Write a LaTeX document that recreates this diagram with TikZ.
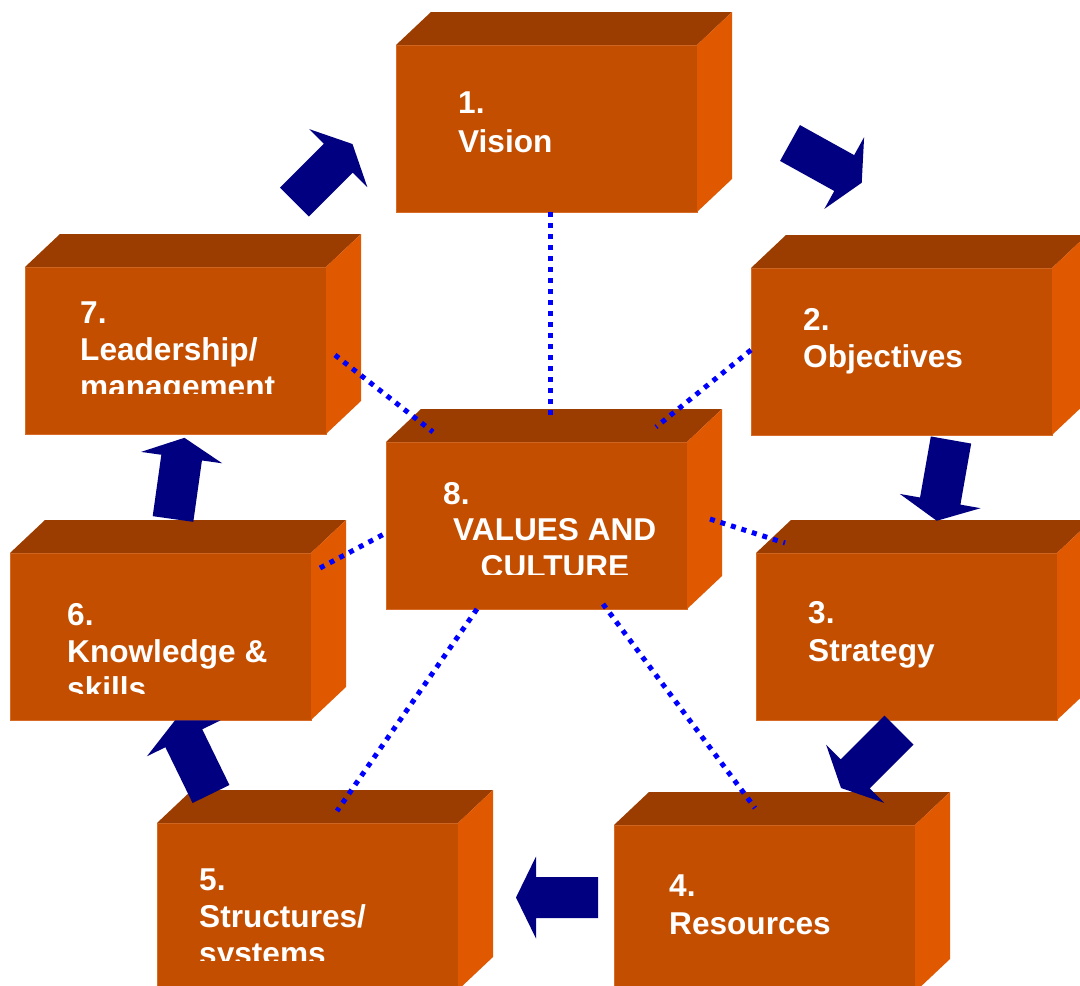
\documentclass[tikz,border=0pt]{standalone}
\usepackage{fontspec}
\setmainfont{Liberation Sans}
\definecolor{frontc}{RGB}{196,78,0}
\definecolor{topc}{RGB}{155,61,0}
\definecolor{sidec}{RGB}{224,89,0}
\definecolor{edgec}{RGB}{214,108,40}
\definecolor{navyc}{RGB}{0,0,128}
\definecolor{dotc}{RGB}{0,0,255}
\tikzset{
  frontface/.style={fill=frontc, draw=edgec, line width=0.8pt, minimum width=301pt, minimum height=167pt, inner sep=0pt, outer sep=0pt, anchor=north west},
  topface/.style={fill=topc},
  sideface/.style={fill=sidec},
  lbl/.style={text=white, font=\fontsize{31.6}{37}\selectfont\bfseries, inner sep=0pt, anchor=base west},
  link/.style={draw=dotc, line width=5pt, dash pattern=on 5pt off 6pt},
  blockarrow/.pic={\fill[navyc] (0,-20.5) -- (62,-20.5) -- (62,-41) -- (82,0) -- (62,41) -- (62,20.5) -- (0,20.5) -- cycle;}
}
\newcommand\drawcuboid[3]{%
  \node[frontface] (#1) at (#2,#3) {};
  \fill[topface] (#1.north west) -- ++(35,-33) -- ++(301,0) -- (#1.north east) -- cycle;
  \fill[sideface] (#1.north east) -- ++(35,-33) -- ++(0,167) -- (#1.south east) -- cycle;
}
\begin{document}
\begin{tikzpicture}[x=1pt,y=-1pt]
\useasboundingbox (0,0) rectangle (1080,986);
\clip (0,0) rectangle (1080,986);
\fill[white] (0,0) rectangle (1080,986);

% boxes
\drawcuboid{b1}{396}{45}
\drawcuboid{b2}{751}{268}
\drawcuboid{b3}{756}{553}
\drawcuboid{b4}{614}{825}
\drawcuboid{b5}{157}{823}
\drawcuboid{b6}{10}{553}
\drawcuboid{b7}{25}{267}
\drawcuboid{b8}{386}{442}

% labels
\node[lbl] (t1a) at (458,113) {1.};
\node[lbl] (t1b) at (458,152) {Vision};
\node[lbl] (t2a) at (803,330) {2.};
\node[lbl] (t2b) at (803,367) {Objectives};
\node[lbl] (t3a) at (808,623) {3.};
\node[lbl] (t3b) at (808,661) {Strategy};
\node[lbl] (t4a) at (669,896) {4.};
\node[lbl] (t4b) at (669,934) {Resources};
\node[lbl] (t5a) at (199,890) {5.};
\node[lbl] (t5b) at (199,927) {Structures/};
\begin{scope}
  \clip (0,0) rectangle (1080,960);
  \node[lbl] (t5c) at (199,964) {systems};
\end{scope}
\node[lbl] (t6a) at (67,625) {6.};
\node[lbl] (t6b) at (67,662) {Knowledge \&};
\begin{scope}
  \clip (0,0) rectangle (1080,693);
  \node[lbl] (t6c) at (67,699) {skills};
\end{scope}
\node[lbl] (t7a) at (80,323) {7.};
\node[lbl] (t7b) at (80,360) {Leadership/};
\begin{scope}
  \clip (0,0) rectangle (1080,393);
  \node[lbl] (t7c) at (80,397) {management};
\end{scope}
\node[lbl] (t8a) at (443,504) {8.};
\node[lbl] (t8b) at (453,540) {VALUES AND};
\begin{scope}
  \clip (0,0) rectangle (1080,574);
  \node[lbl, anchor=base] (t8c) at (555,577) {CULTURE};
\end{scope}

% dotted links
\coordinate (d1a) at (550,212); \coordinate (d1b) at (550,420);
\coordinate (d7a) at (335,355); \coordinate (d7b) at (433,432);
\coordinate (d2a) at (751,350); \coordinate (d2b) at (656,427);
\coordinate (d3a) at (710,519); \coordinate (d3b) at (785,543);
\coordinate (d6a) at (320,568); \coordinate (d6b) at (386,533);
\coordinate (d5a) at (477,609); \coordinate (d5b) at (337,811);
\coordinate (d4a) at (603,604); \coordinate (d4b) at (755,808);
\draw[link] (d1a) -- (d1b);
\draw[link] (d7a) -- (d7b);
\draw[link] (d2a) -- (d2b);
\draw[link] (d3a) -- (d3b);
\draw[link] (d6a) -- (d6b);
\draw[link] (d5a) -- (d5b);
\draw[link] (d4a) -- (d4b);

% block arrows
\pic[rotate=45] at (294.5,202) {blockarrow};
\pic[rotate=-29] at (790,143) {blockarrow};
\pic[rotate=-100] at (951,440) {blockarrow};
\pic[rotate=-135] at (899,730) {blockarrow};
\pic[rotate=180] at (598,897.5) {blockarrow};
\pic[rotate=116] at (211,794) {blockarrow};
\pic[rotate=82] at (173,519) {blockarrow};
\end{tikzpicture}
\end{document}
